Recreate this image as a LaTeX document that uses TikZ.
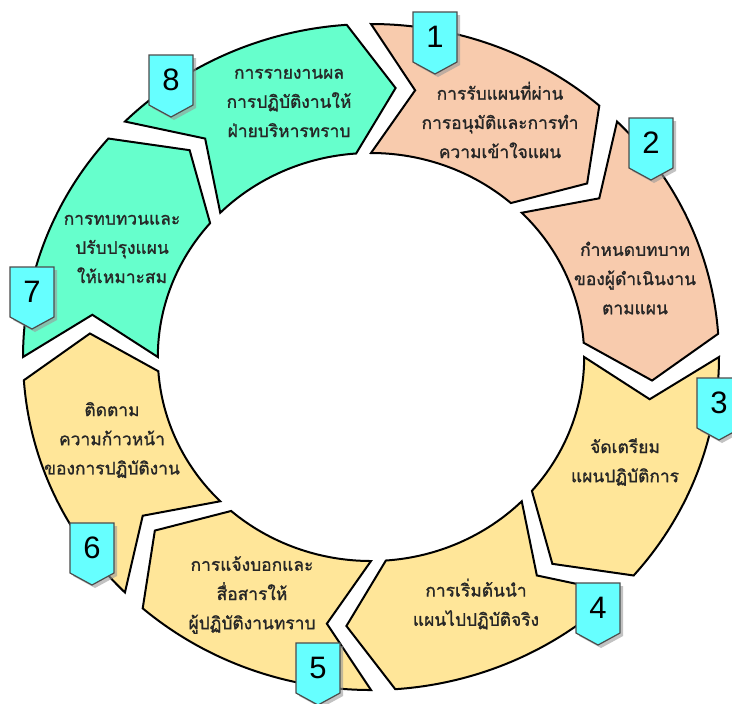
\documentclass[tikz,border=0pt]{standalone}
\usepackage{fontspec}
\newfontfamily\thaifont[Script=Thai,FakeBold=1.2]{Loma}
\setsansfont{Liberation Sans}
\definecolor{mint}{HTML}{66FFCC}
\definecolor{salmon}{HTML}{F8CBAD}
\definecolor{sand}{HTML}{FFE699}
\definecolor{cyanb}{HTML}{66FFFF}
\newcommand\Ro{333}
\newcommand\Ri{204}
\newcommand\Rm{270}
\newcommand\dd{9}
\newcommand\ringseg[3]{%
  \begin{scope}[shift={(371,-357)}, xscale=1.045]
  \draw[seg, fill=#3] (#1:\Ro) arc[start angle=#1, end angle=#2, radius=\Ro]
    -- ({#2-\dd}:\Rm) -- (#2:\Ri) arc[start angle=#2, end angle=#1, radius=\Ri]
    -- ({#1-\dd}:\Rm) -- cycle;
  \end{scope}}
\begin{document}
\begin{tikzpicture}[x=0.5pt,y=0.5pt,
  seg/.style={draw=black, line width=1pt, line join=miter},
  lbl/.style={font=\thaifont\fontsize{8.7}{14.6}\selectfont, align=center, text=black!85},
  num/.style={font=\sffamily\fontsize{15.5}{15.5}\selectfont, text=black},
  badge/.pic={
    \fill[black!40, opacity=0.6] (-19,-3) -- (25,-3) -- (25,-53) -- (3,-65) -- (-19,-53) -- cycle;
    \draw[fill=cyanb, draw=black!70, line width=0.6pt] (-22,0) -- (22,0) -- (22,-50) -- (0,-62) -- (-22,-50) -- cycle;
  }]
\useasboundingbox (0,0) rectangle (732,-703);
\ringseg{90}{49}{salmon}
\ringseg{45}{4}{salmon}
\ringseg{0}{-41}{sand}
\ringseg{-45}{-86}{sand}
\ringseg{-90}{-131}{sand}
\ringseg{-135}{-176}{sand}
\ringseg{-180}{-221}{mint}
\ringseg{-225}{-266}{mint}
% labels
\node[lbl] (t1) at (500,-120) {การรับแผนที่ผ่าน\\การอนุมัติและการทำ\\ความเข้าใจแผน};
\node[lbl] (t2) at (635,-278) {กำหนดบทบาท\\ของผู้ดำเนินงาน\\ตามแผน};
\node[lbl] (t3) at (625,-462) {จัดเตรียม\\แผนปฏิบัติการ};
\node[lbl] (t4) at (476,-604) {การเริ่มต้นนำ\\แผนไปปฏิบัติจริง};
\node[lbl] (t5) at (252,-595) {การแจ้งบอกและ\\สื่อสารให้\\ผู้ปฏิบัติงานทราบ};
\node[lbl] (t6) at (112,-440) {ติดตาม\\ความก้าวหน้า\\ของการปฏิบัติงาน};
\node[lbl] (t7) at (122,-249) {การทบทวนและ\\ปรับปรุงแผน\\ให้เหมาะสม};
\node[lbl] (t8) at (289,-103) {การรายงานผล\\การปฏิบัติงานให้\\ฝ่ายบริหารทราบ};
% badges
\pic at (435,-12) {badge};  \node[num] (b1) at (435,-37) {1};
\pic at (651,-118) {badge}; \node[num] (b2) at (651,-143) {2};
\pic at (719,-378) {badge}; \node[num] (b3) at (719,-403) {3};
\pic at (598,-583) {badge}; \node[num] (b4) at (598,-608) {4};
\pic at (318,-643) {badge}; \node[num] (b5) at (318,-668) {5};
\pic at (92,-523) {badge};  \node[num] (b6) at (92,-548) {6};
\pic at (32,-267) {badge};  \node[num] (b7) at (32,-292) {7};
\pic at (171,-55) {badge};  \node[num] (b8) at (171,-80) {8};
\end{tikzpicture}
\end{document}
